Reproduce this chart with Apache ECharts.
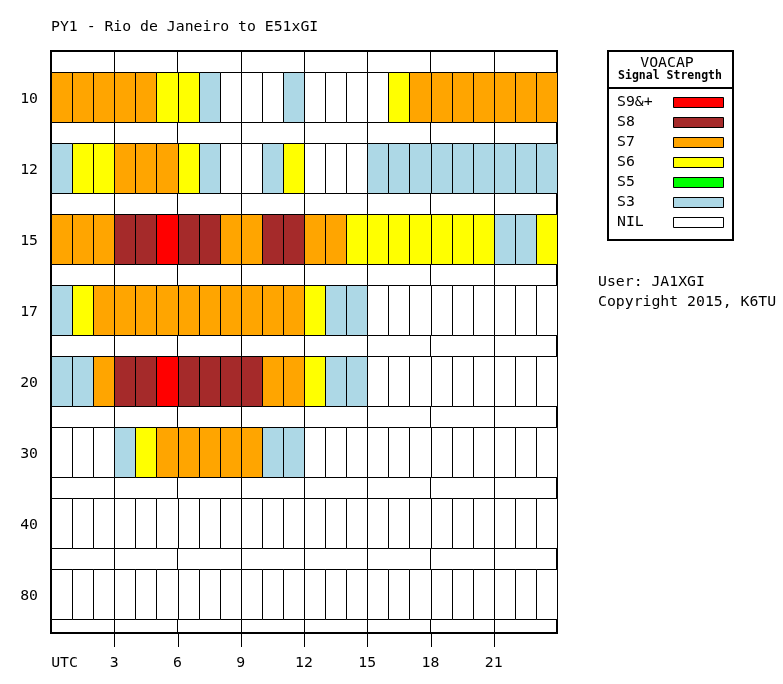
<!DOCTYPE html>
<html><head><meta charset="utf-8">
<script src="https://cdn.jsdelivr.net/npm/echarts@6/dist/echarts.min.js"></script>
<style>html,body{margin:0;padding:0;background:#fff}#c{width:783px;height:684px}</style>
</head><body><div id="c"></div>
<script>
const titleText = 'PY1 - Rio de Janeiro to E51xGI';
const bands = ['10', '12', '15', '17', '20', '30', '40', '80'];
const hourTicks = [3, 6, 9, 12, 15, 18, 21];
const hourLabels = [0, 3, 6, 9, 12, 15, 18, 21];
const levelNames = ['NIL', 'S3', 'S5', 'S6', 'S7', 'S8', 'S9&+'];
const levelColors = ['#FFFFFF', '#ADD8E6', '#00FF00', '#FFFF00', '#FFA500', '#A52A2A', '#FF0000'];
const legendOrder = [6, 5, 4, 3, 2, 1, 0];
const legendTitle = 'VOACAP';
const legendSubtitle = 'Signal Strength';
const userText = 'User: JA1XGI';
const copyrightText = 'Copyright 2015, K6TU';

// signal level index per UTC hour 0..23
const band10 = [4,4,4,4,4,3,3,1,0,0,0,1,0,0,0,0,3,4,4,4,4,4,4,4];
const band12 = [1,3,3,4,4,4,3,1,0,0,1,3,0,0,0,1,1,1,1,1,1,1,1,1];
const band15 = [4,4,4,5,5,6,5,5,4,4,5,5,4,4,3,3,3,3,3,3,3,1,1,3];
const band17 = [1,3,4,4,4,4,4,4,4,4,4,4,3,1,1,0,0,0,0,0,0,0,0,0];
const band20 = [1,1,4,5,5,6,5,5,5,5,4,4,3,1,1,0,0,0,0,0,0,0,0,0];
const band30 = [0,0,0,1,3,4,4,4,4,4,1,1,0,0,0,0,0,0,0,0,0,0,0,0];
const band40 = [0,0,0,0,0,0,0,0,0,0,0,0,0,0,0,0,0,0,0,0,0,0,0,0];
const band80 = [0,0,0,0,0,0,0,0,0,0,0,0,0,0,0,0,0,0,0,0,0,0,0,0];
const bandSignals = [band10, band12, band15, band17, band20, band30, band40, band80];

const FONT = '"DejaVu Sans Mono", "Liberation Mono", monospace';
const FS = 14.8;
const ROW_OFF = 0.3, ROW_END = 1.0, LABEL_OFF = 0.68;
const HOURS = 24, Y_MAX = 8.2, TICK_LEN = 14;

const data = [];
bandSignals.forEach((arr, r) => arr.forEach((lv, h) => data.push([h, r, lv])));
const tickData = hourTicks.map(h => [h, Y_MAX]);

function renderItem(params, api) {
  const h = api.value(0), r = api.value(1), lv = api.value(2);
  const p0 = api.coord([h, r + ROW_OFF]);
  const p1 = api.coord([h + 1, r + ROW_END]);
  const x0 = Math.round(p0[0]) + 0.5, x1 = Math.round(p1[0]) + 0.5;
  const y0 = Math.round(p0[1]) + 0.5, y1 = Math.round(p1[1]) + 0.5;
  return {
    type: 'rect',
    shape: { x: x0, y: y0, width: x1 - x0, height: y1 - y0 },
    style: { fill: levelColors[lv], stroke: '#000', lineWidth: 1 }
  };
}

function renderTick(params, api) {
  const p = api.coord([api.value(0), api.value(1)]);
  const x = Math.round(p[0]) + 0.5;
  const y = Math.round(p[1]);
  return {
    type: 'line',
    shape: { x1: x, y1: y, x2: x, y2: y + TICK_LEN },
    style: { stroke: '#000', lineWidth: 1 }
  };
}

const legendChildren = [
  { type: 'rect', shape: { x: 0, y: 0, width: 125, height: 189 }, style: { fill: '#fff', stroke: '#000', lineWidth: 2 } },
  { type: 'line', shape: { x1: 0, y1: 37, x2: 125, y2: 37 }, style: { stroke: '#000', lineWidth: 2 } },
  { type: 'text', x: 59, y: 12.5, style: { text: legendTitle, font: 'normal ' + FS + 'px ' + FONT, fill: '#000', align: 'center', verticalAlign: 'middle' } },
  { type: 'text', x: 62, y: 25.5, style: { text: legendSubtitle, font: 'bold 11.5px ' + FONT, fill: '#000', align: 'center', verticalAlign: 'middle' } }
];
legendOrder.forEach((lv, i) => {
  legendChildren.push({ type: 'text', x: 9, y: 51.5 + i * 20, style: { text: levelNames[lv], font: 'normal ' + FS + 'px ' + FONT, fill: '#000', align: 'left', verticalAlign: 'middle' } });
  legendChildren.push({ type: 'rect', shape: { x: 65.5, y: 46.5 + i * 20, width: 50, height: 10 }, style: { fill: levelColors[lv], stroke: '#000', lineWidth: 1 } });
});

const chart = echarts.init(document.getElementById('c'));
chart.setOption({
  animation: false,
  backgroundColor: '#fff',
  title: {
    text: titleText, left: 51, top: 20, padding: 0,
    textStyle: { fontFamily: FONT, fontSize: FS, fontWeight: 'normal', color: '#000' }
  },
  grid: { left: 51, top: 51, width: 506, height: 582, show: true, borderColor: '#000', borderWidth: 2, backgroundColor: '#fff' },
  xAxis: {
    type: 'value', min: 0, max: HOURS, interval: 3, position: 'bottom',
    axisLine: { show: true, onZero: false, lineStyle: { color: '#000', width: 2 } },
    axisTick: { show: false },
    axisLabel: {
      customValues: hourLabels, margin: 23,
      fontFamily: FONT, fontSize: FS, color: '#000',
      formatter: v => v === 0 ? '{u|UTC}' : String(v),
      rich: { u: { fontFamily: FONT, fontSize: FS, color: '#000', padding: [0, 0, 0, 27] } }
    },
    splitLine: { show: true, lineStyle: { color: '#000', width: 1 } }
  },
  yAxis: {
    type: 'value', inverse: true, min: 0, max: Y_MAX,
    axisLine: { show: false }, axisTick: { show: false }, splitLine: { show: false },
    axisLabel: {
      customValues: bands.map((b, i) => i + LABEL_OFF), margin: 13,
      fontFamily: FONT, fontSize: FS, color: '#000',
      formatter: v => bands[Math.round(v - LABEL_OFF)]
    }
  },
  series: [
    { type: 'custom', renderItem: renderItem, data: data, encode: { x: 0, y: 1 }, z: 3 },
    { type: 'custom', renderItem: renderTick, data: tickData, encode: { x: 0, y: 1 }, clip: false, silent: true, z: 3 }
  ],
  graphic: [
    { type: 'group', x: 608, y: 51, children: legendChildren },
    { type: 'text', x: 598, y: 282, style: { text: userText, font: 'normal ' + FS + 'px ' + FONT, fill: '#000', verticalAlign: 'middle' } },
    { type: 'text', x: 598, y: 302, style: { text: copyrightText, font: 'normal ' + FS + 'px ' + FONT, fill: '#000', verticalAlign: 'middle' } }
  ]
});
</script></body></html>
